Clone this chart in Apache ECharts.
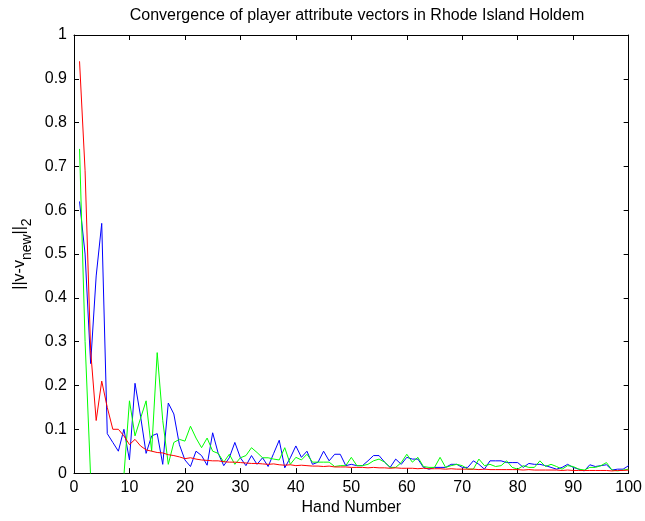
<!DOCTYPE html>
<html>
<head>
<meta charset="utf-8">
<script src="https://cdn.jsdelivr.net/npm/echarts@6/dist/echarts.min.js"></script>
<style>
  html, body { margin: 0; padding: 0; background: #fff; }
  #chart { width: 645px; height: 521px; }
</style>
</head>
<body>
<div id="chart"></div>
<script>
// values, hand 1..100
const blueValues = [
  0.62, 0.50, 0.25, 0.45, 0.57, 0.09, 0.07, 0.05, 0.10, 0.03,
  0.205, 0.13, 0.045, 0.085, 0.09, 0.02, 0.16, 0.135, 0.065, 0.03,
  0.015, 0.05, 0.04, 0.018, 0.092, 0.045, 0.017, 0.035, 0.07, 0.035,
  0.017, 0.04, 0.02, 0.035, 0.015, 0.045, 0.075, 0.012, 0.035, 0.062,
  0.036, 0.05, 0.02, 0.025, 0.05, 0.028, 0.043, 0.043, 0.017, 0.02,
  0.017, 0.017, 0.028, 0.04, 0.04, 0.025, 0.013, 0.032, 0.02, 0.036,
  0.032, 0.032, 0.013, 0.009, 0.013, 0.013, 0.013, 0.02, 0.02, 0.013,
  0.013, 0.028, 0.02, 0.009, 0.028, 0.028, 0.028, 0.024, 0.024, 0.024,
  0.013, 0.022, 0.02, 0.02, 0.017, 0.013, 0.009, 0.013, 0.02, 0.013,
  0.009, 0.005, 0.019, 0.015, 0.017, 0.019, 0.007, 0.009, 0.009, 0.017
];
const greenValues = [
  0.74, 0.30, -0.01, -0.1, -0.15, -0.15, -0.1, -0.08, -0.005, 0.165,
  0.085, 0.125, 0.165, 0.05, 0.275, 0.12, 0.02, 0.07, 0.077, 0.073,
  0.107, 0.08, 0.058, 0.08, 0.05, 0.045, 0.025, 0.043, 0.02, 0.035,
  0.04, 0.058, 0.047, 0.035, 0.035, 0.032, 0.03, 0.058, 0.02, 0.036,
  0.03, 0.043, 0.025, 0.025, 0.025, 0.025, 0.015, 0.017, 0.017, 0.036,
  0.017, 0.017, 0.02, 0.028, 0.032, 0.025, 0.013, 0.013, 0.024, 0.043,
  0.025, 0.036, 0.015, 0.013, 0.013, 0.036, 0.013, 0.017, 0.02, 0.017,
  0.009, 0.009, 0.032, 0.017, 0.02, 0.015, 0.017, 0.028, 0.013, 0.009,
  0.017, 0.013, 0.013, 0.028, 0.015, 0.02, 0.015, 0.009, 0.017, 0.015,
  0.009, 0.007, 0.013, 0.013, 0.017, 0.024, 0.007, 0.005, 0.007, 0.009
];
const redValues = [
  0.94, 0.69, 0.28, 0.12, 0.21, 0.15, 0.10, 0.10, 0.085, 0.065,
  0.077, 0.062, 0.053, 0.05, 0.047, 0.046, 0.042, 0.04, 0.037, 0.033,
  0.035, 0.032, 0.03, 0.029, 0.028, 0.028, 0.026, 0.025, 0.025, 0.024,
  0.023, 0.022, 0.022, 0.021, 0.02, 0.021, 0.019, 0.018, 0.019, 0.017,
  0.018, 0.017, 0.016, 0.016, 0.015, 0.016, 0.014, 0.014, 0.014, 0.013,
  0.013, 0.013, 0.012, 0.013, 0.012, 0.012, 0.011, 0.012, 0.011, 0.011,
  0.011, 0.010, 0.011, 0.010, 0.010, 0.010, 0.009, 0.010, 0.009, 0.009,
  0.009, 0.009, 0.008, 0.009, 0.008, 0.008, 0.008, 0.008, 0.008, 0.008,
  0.007, 0.008, 0.007, 0.007, 0.007, 0.007, 0.007, 0.006, 0.007, 0.006,
  0.006, 0.006, 0.006, 0.006, 0.006, 0.006, 0.005, 0.006, 0.006, 0.007
];
const xTicks = { min: 0, max: 100, interval: 10 };
const yTicks = { min: 0, max: 1, interval: 0.1 };

const font = "'Liberation Sans', Arial, sans-serif";
const chart = echarts.init(document.getElementById("chart"));

const pairs = (values) => values.map((v, i) => [i + 1, v]);
const line = (name, color, values) => ({
  name,
  type: "line",
  data: pairs(values),
  showSymbol: false,
  clip: true,
  lineStyle: { color, width: 1 },
  itemStyle: { color }
});

const axisBase = {
  type: "value",
  axisLine: { show: true, onZero: false, lineStyle: { color: "#000", width: 1 } },
  axisTick: { show: true, inside: true, length: 5, lineStyle: { color: "#000" } },
  splitLine: { show: false }
};

chart.setOption({
  animation: false,
  backgroundColor: "#fff",
  textStyle: { fontFamily: font },
  title: {
    text: "Convergence of player attribute vectors in Rhode Island Holdem",
    left: 352,
    textAlign: "center",
    top: 3,
    textStyle: { fontFamily: font, fontSize: 16, fontWeight: "normal", color: "#000" }
  },
  grid: { left: 74, right: 15, top: 35, bottom: 45 },
  xAxis: [
    {
      ...axisBase,
      ...xTicks,
      position: "bottom",
      axisLabel: { color: "#000", fontSize: 16, fontFamily: font, margin: 6 },
      name: "Hand Number",
      nameLocation: "middle",
      nameGap: 26,
      nameTextStyle: { color: "#000", fontSize: 16, fontFamily: font }
    },
    { ...axisBase, ...xTicks, position: "top", axisLabel: { show: false } }
  ],
  yAxis: [
    {
      ...axisBase,
      ...yTicks,
      position: "left",
      axisLabel: { color: "#000", fontSize: 16, fontFamily: font, margin: 7 },
      name: "{m|||v-v}{s|new}{m|||}{s|2}",
      nameLocation: "middle",
      nameRotate: 90,
      nameGap: 38,
      nameTextStyle: {
        color: "#000",
        fontFamily: font,
        rich: {
          m: { fontSize: 16, lineHeight: 18, verticalAlign: "top", color: "#000", fontFamily: font },
          s: { fontSize: 14, lineHeight: 15, padding: [8, 0, 0, 0], verticalAlign: "top", color: "#000", fontFamily: font }
        }
      }
    },
    { ...axisBase, ...yTicks, position: "right", axisLabel: { show: false } }
  ],
  series: [
    line("blue", "#0000ff", blueValues),
    line("green", "#00ff00", greenValues),
    line("red", "#ff0000", redValues)
  ]
});

window.addEventListener("resize", () => chart.resize());
</script>
</body>
</html>
